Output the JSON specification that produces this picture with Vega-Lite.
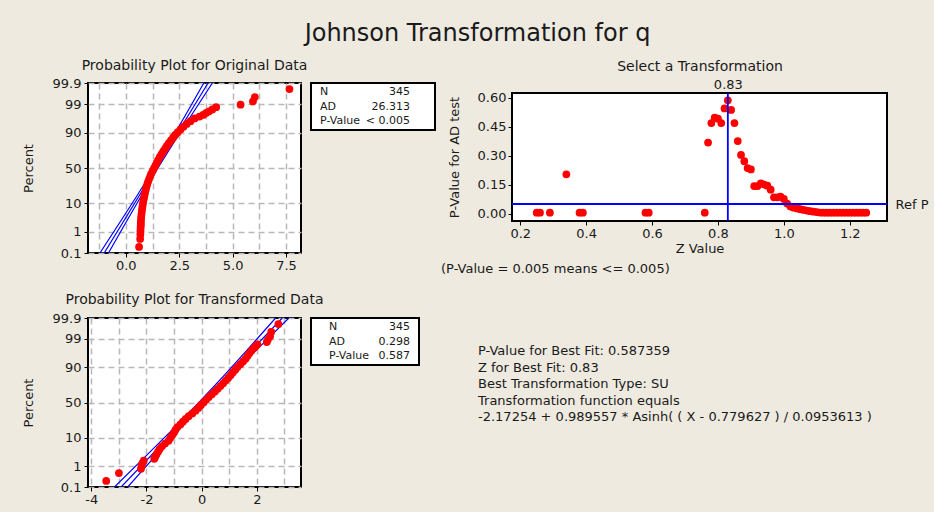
{
 "$schema": "https://vega.github.io/schema/vega-lite/v6.json",
 "background": "#EEEAE0",
 "padding": {"left": 21, "top": 22, "right": 6, "bottom": 6},
 "title": {"text": "Johnson Transformation for q", "fontSize": 24, "fontWeight": "normal", "color": "#1a1a1a", "anchor": "middle", "offset": 12, "dx": 3},
 "config": {
  "font": "DejaVu Sans",
  "view": {"stroke": null},
  "axis": {"labelColor": "#1a1a1a", "titleColor": "#1a1a1a", "titleFontWeight": "normal", "titleFontSize": 13, "labelFontSize": 13, "tickColor": "#000", "domain": false, "labelFlush": false, "labelOverlap": false},
  "title": {"fontWeight": "normal", "color": "#1a1a1a", "fontSize": 14}
 },
 "columns": 6,
 "spacing": 0,
 "align": "each",
 "bounds": "flush",
 "concat": [
  {
   "width": 213, "height": 170,
   "view": {"stroke": "#000", "strokeWidth": 2, "fill": "white"},
   "title": {"text": "Probability Plot for Original Data", "frame": "group", "anchor": "middle", "offset": 4},
   "encoding": {
    "x": {"field": "x", "type": "quantitative", "scale": {"domain": [-1.77, 8.2], "nice": false, "zero": false},
     "axis": {"values": [-1.25, 0, 1.25, 2.5, 3.75, 5, 6.25, 7.5], "labelExpr": "abs(datum.value % 2.5) < 0.001 ? format(datum.value, '.1f') : ''",
      "tickOpacity": {"condition": {"test": "abs(datum.value % 2.5) < 0.001", "value": 1}, "value": 0},
      "title": null, "tickSize": 4, "labelPadding": 2, "grid": true, "gridDash": [6, 4], "gridColor": "#b8b8b8", "gridWidth": 1.5}},
    "y": {"field": "z", "type": "quantitative", "scale": {"domain": [-3.0902, 3.0902], "nice": false, "zero": false},
     "axis": {"values": [-3.0902, -2.3263, -1.2816, 0, 1.2816, 2.3263, 3.0902],
      "labelExpr": "datum.value < -3 ? '0.1' : datum.value < -2 ? '1' : datum.value < -1 ? '10' : datum.value < 1 ? '50' : datum.value < 2 ? '90' : datum.value < 3 ? '99' : '99.9'",
      "title": "Percent", "titlePadding": 17, "tickSize": 4, "labelPadding": 3, "grid": true, "gridDash": [6, 4], "gridColor": "#b8b8b8", "gridWidth": 1.5}}
   },
   "layer": [
    {"data": {"name": "o_fit"}, "mark": {"type": "line", "color": "#0000ff", "strokeWidth": 1.2, "clip": true}, "encoding": {"detail": {"field": "line"}}},
    {"data": {"name": "o_pts"}, "mark": {"type": "circle", "size": 60, "color": "#ff0000", "opacity": 1}}
   ]
  },
  {"width": 10, "height": 1, "data": {"values": [{}]}, "mark": {"type": "point", "opacity": 0}, "encoding": {}},
  {
   "width": 124, "height": 47,
   "view": {"stroke": "#000", "strokeWidth": 2, "fill": "white"},
   "data": {"name": "box1"},
   "encoding": {"y": {"field": "row", "type": "ordinal", "axis": null, "scale": {"type": "point", "padding": 0.6}}},
   "layer": [
    {"mark": {"type": "text", "align": "left", "baseline": "middle", "fontSize": 11, "color": "#1a1a1a"},
     "encoding": {"text": {"field": "key"}, "x": {"datum": 0, "type": "quantitative", "scale": {"domain": [0, 1], "range": [9, 99]}, "axis": null}}},
    {"mark": {"type": "text", "align": "right", "baseline": "middle", "fontSize": 11, "color": "#1a1a1a"},
     "encoding": {"text": {"field": "val"}, "x": {"datum": 1, "type": "quantitative", "scale": {"domain": [0, 1], "range": [9, 99]}, "axis": null}}}
   ]
  },
  {"width": 43, "height": 1, "data": {"values": [{}]}, "mark": {"type": "point", "opacity": 0}, "encoding": {}},
  {"width": 34, "height": 1, "data": {"values": [{}]}, "mark": {"type": "point", "opacity": 0}, "encoding": {}},
  {
   "width": 375, "height": 138,
   "title": {"text": "(P-Value = 0.005 means <= 0.005)", "orient": "bottom", "anchor": "start", "frame": "group", "dx": -71, "offset": 8, "fontSize": 13},
   "layer": [
    {"data": {"values": [{}]}, "mark": {"type": "rect", "fill": "white", "stroke": "#000", "strokeWidth": 2},
     "encoding": {
      "x": {"datum": 0.175, "type": "quantitative", "scale": {"domain": [0.175, 1.313], "nice": false, "zero": false}, "axis": null},
      "x2": {"datum": 1.313},
      "y": {"datum": -0.038, "type": "quantitative", "scale": {"domain": [-0.038, 0.625], "nice": false, "zero": false, "range": [138, 10]}, "axis": null},
      "y2": {"datum": 0.625}
     }},
    {"data": {"name": "zsel"}, "mark": {"type": "circle", "size": 60, "color": "#ff0000", "opacity": 1},
     "encoding": {
      "x": {"field": "z", "type": "quantitative", "scale": {"domain": [0.175, 1.313], "nice": false, "zero": false},
       "axis": {"values": [0.2, 0.4, 0.6, 0.8, 1.0, 1.2], "format": ".1f", "title": "Z Value", "titlePadding": 2, "tickSize": 4, "labelPadding": 2, "grid": false}},
      "y": {"field": "p", "type": "quantitative", "scale": {"domain": [-0.038, 0.625], "nice": false, "zero": false, "range": [138, 10]},
       "axis": {"values": [0, 0.15, 0.3, 0.45, 0.6], "format": ".2f", "title": "P-Value for AD test", "titlePadding": 16, "tickSize": 4, "labelPadding": 2, "grid": false}}
     }},
    {"data": {"name": "refp"}, "mark": {"type": "rule", "color": "#0000ff", "strokeWidth": 1.8},
     "encoding": {"y": {"field": "p", "type": "quantitative", "scale": {"domain": [-0.038, 0.625], "nice": false, "zero": false, "range": [138, 10]},
      "axis": {"orient": "right", "values": [0.05], "labelExpr": "'Ref P'", "title": null, "ticks": false, "grid": false, "labelPadding": 8}}}},
    {"data": {"name": "zbest"}, "mark": {"type": "rule", "color": "#0000ff", "strokeWidth": 1.8},
     "encoding": {
      "x": {"field": "z", "type": "quantitative", "scale": {"domain": [0.175, 1.313], "nice": false, "zero": false},
       "axis": {"orient": "top", "values": [0.83], "format": ".2f", "title": "Select a Transformation", "titleFontSize": 14, "titlePadding": 5, "ticks": false, "grid": false, "offset": -10, "labelPadding": 2}},
      "y": {"datum": -0.038, "type": "quantitative", "scale": {"domain": [-0.038, 0.625], "nice": false, "zero": false, "range": [138, 10]}, "axis": null},
      "y2": {"datum": 0.625}
     }}
   ],
   "resolve": {"axis": {"x": "independent", "y": "independent"}}
  },

  {"width": 1, "height": 65, "data": {"values": [{}]}, "mark": {"type": "point", "opacity": 0}, "encoding": {}},
  {"width": 1, "height": 1, "data": {"values": [{}]}, "mark": {"type": "point", "opacity": 0}, "encoding": {}},
  {"width": 1, "height": 1, "data": {"values": [{}]}, "mark": {"type": "point", "opacity": 0}, "encoding": {}},
  {"width": 1, "height": 1, "data": {"values": [{}]}, "mark": {"type": "point", "opacity": 0}, "encoding": {}},
  {"width": 1, "height": 1, "data": {"values": [{}]}, "mark": {"type": "point", "opacity": 0}, "encoding": {}},
  {"width": 1, "height": 1, "data": {"values": [{}]}, "mark": {"type": "point", "opacity": 0}, "encoding": {}},

  {
   "width": 213, "height": 169,
   "view": {"stroke": "#000", "strokeWidth": 2, "fill": "white"},
   "title": {"text": "Probability Plot for Transformed Data", "frame": "group", "anchor": "middle", "offset": 5},
   "encoding": {
    "x": {"field": "x", "type": "quantitative", "scale": {"domain": [-4.12, 3.6], "nice": false, "zero": false},
     "axis": {"values": [-4, -3, -2, -1, 0, 1, 2, 3], "labelExpr": "datum.value % 2 == 0 ? '' + datum.value : ''",
      "tickOpacity": {"condition": {"test": "datum.value % 2 == 0", "value": 1}, "value": 0},
      "title": null, "tickSize": 4, "labelPadding": 2, "grid": true, "gridDash": [6, 4], "gridColor": "#b8b8b8", "gridWidth": 1.5}},
    "y": {"field": "z", "type": "quantitative", "scale": {"domain": [-3.0902, 3.0902], "nice": false, "zero": false},
     "axis": {"values": [-3.0902, -2.3263, -1.2816, 0, 1.2816, 2.3263, 3.0902],
      "labelExpr": "datum.value < -3 ? '0.1' : datum.value < -2 ? '1' : datum.value < -1 ? '10' : datum.value < 1 ? '50' : datum.value < 2 ? '90' : datum.value < 3 ? '99' : '99.9'",
      "title": "Percent", "titlePadding": 17, "tickSize": 4, "labelPadding": 3, "grid": true, "gridDash": [6, 4], "gridColor": "#b8b8b8", "gridWidth": 1.5}}
   },
   "layer": [
    {"data": {"name": "t_fit"}, "mark": {"type": "line", "color": "#0000ff", "strokeWidth": 1.2, "clip": true}, "encoding": {"detail": {"field": "line"}}},
    {"data": {"name": "t_pts"}, "mark": {"type": "circle", "size": 60, "color": "#ff0000", "opacity": 1}}
   ]
  },
  {"width": 10, "height": 1, "data": {"values": [{}]}, "mark": {"type": "point", "opacity": 0}, "encoding": {}},
  {
   "width": 108, "height": 47,
   "view": {"stroke": "#000", "strokeWidth": 2, "fill": "white"},
   "data": {"name": "box2"},
   "encoding": {"y": {"field": "row", "type": "ordinal", "axis": null, "scale": {"type": "point", "padding": 0.65}}},
   "layer": [
    {"mark": {"type": "text", "align": "left", "baseline": "middle", "fontSize": 11, "color": "#1a1a1a"},
     "encoding": {"text": {"field": "key"}, "x": {"datum": 0, "type": "quantitative", "scale": {"domain": [0, 1], "range": [18, 99]}, "axis": null}}},
    {"mark": {"type": "text", "align": "right", "baseline": "middle", "fontSize": 11, "color": "#1a1a1a"},
     "encoding": {"text": {"field": "val"}, "x": {"datum": 1, "type": "quantitative", "scale": {"domain": [0, 1], "range": [18, 99]}, "axis": null}}}
   ]
  },
  {"width": 43, "height": 1, "data": {"values": [{}]}, "mark": {"type": "point", "opacity": 0}, "encoding": {}},
  {
   "width": 34, "height": 107,
   "data": {"name": "txt"},
   "mark": {"type": "text", "align": "left", "baseline": "middle", "fontSize": 13, "color": "#1a1a1a"},
   "encoding": {
    "y": {"field": "line", "type": "ordinal", "axis": null, "scale": {"type": "point", "range": [33, 99], "padding": 0}},
    "x": {"datum": 0, "type": "quantitative", "scale": {"domain": [0, 1]}, "axis": null},
    "text": {"field": "text"}
   }
  },
  {"width": 1, "height": 1, "data": {"values": [{}]}, "mark": {"type": "point", "opacity": 0}, "encoding": {}}
 ],
 "datasets": {
  "o_pts": [
   {"x": 0.62, "z": -2.87}, {"x": 0.67, "z": -2.58}, {"x": 0.68, "z": -2.42}, {"x": 0.685, "z": -2.3}, {"x": 0.69, "z": -2.21},
   {"x": 0.695, "z": -2.13}, {"x": 0.7, "z": -2.06}, {"x": 0.7, "z": -2.0}, {"x": 0.71, "z": -1.9}, {"x": 0.72, "z": -1.8},
   {"x": 0.73, "z": -1.7}, {"x": 0.75, "z": -1.6}, {"x": 0.76, "z": -1.5}, {"x": 0.78, "z": -1.4}, {"x": 0.8, "z": -1.3},
   {"x": 0.82, "z": -1.2}, {"x": 0.85, "z": -1.1}, {"x": 0.87, "z": -1.0}, {"x": 0.9, "z": -0.9}, {"x": 0.93, "z": -0.8},
   {"x": 0.96, "z": -0.7}, {"x": 1.0, "z": -0.6}, {"x": 1.04, "z": -0.5}, {"x": 1.09, "z": -0.4}, {"x": 1.14, "z": -0.3},
   {"x": 1.19, "z": -0.2}, {"x": 1.26, "z": -0.1}, {"x": 1.32, "z": 0.0}, {"x": 1.39, "z": 0.1}, {"x": 1.45, "z": 0.2},
   {"x": 1.52, "z": 0.3}, {"x": 1.59, "z": 0.4}, {"x": 1.67, "z": 0.5}, {"x": 1.75, "z": 0.6}, {"x": 1.84, "z": 0.7},
   {"x": 1.92, "z": 0.8}, {"x": 2.01, "z": 0.9}, {"x": 2.11, "z": 1.0}, {"x": 2.21, "z": 1.1}, {"x": 2.31, "z": 1.2},
   {"x": 2.43, "z": 1.3}, {"x": 2.56, "z": 1.4}, {"x": 2.7, "z": 1.5}, {"x": 2.85, "z": 1.6}, {"x": 3.03, "z": 1.7},
   {"x": 3.22, "z": 1.8}, {"x": 3.45, "z": 1.87}, {"x": 3.62, "z": 1.93}, {"x": 3.76, "z": 2.0}, {"x": 3.9, "z": 2.06},
   {"x": 4.05, "z": 2.13}, {"x": 4.23, "z": 2.21}, {"x": 5.37, "z": 2.3}, {"x": 5.95, "z": 2.42}, {"x": 6.04, "z": 2.58},
   {"x": 7.66, "z": 2.87}
  ],
  "o_fit": [
   {"line": "fit", "z": -3.0902, "x": -1.012}, {"line": "fit", "z": 3.0902, "x": 3.852},
   {"line": "lo", "z": -3.0902, "x": -1.212}, {"line": "lo", "z": -2, "x": -0.298}, {"line": "lo", "z": -1, "x": 0.531}, {"line": "lo", "z": 0, "x": 1.337}, {"line": "lo", "z": 1, "x": 2.105}, {"line": "lo", "z": 2, "x": 2.85}, {"line": "lo", "z": 3.0902, "x": 3.652},
   {"line": "hi", "z": -3.0902, "x": -0.812}, {"line": "hi", "z": -2, "x": -0.01}, {"line": "hi", "z": -1, "x": 0.735}, {"line": "hi", "z": 0, "x": 1.503}, {"line": "hi", "z": 1, "x": 2.309}, {"line": "hi", "z": 2, "x": 3.138}, {"line": "hi", "z": 3.0902, "x": 4.052}
  ],
  "t_pts": [
   {"x": -3.46, "z": -2.87}, {"x": -3.0, "z": -2.58}, {"x": -2.2, "z": -2.42}, {"x": -2.18, "z": -2.3}, {"x": -2.14, "z": -2.21},
   {"x": -2.1, "z": -2.13}, {"x": -1.72, "z": -2.06}, {"x": -1.69, "z": -2.0}, {"x": -1.64, "z": -1.9}, {"x": -1.58, "z": -1.8},
   {"x": -1.52, "z": -1.7}, {"x": -1.44, "z": -1.6}, {"x": -1.33, "z": -1.5}, {"x": -1.2, "z": -1.4}, {"x": -1.14, "z": -1.3},
   {"x": -1.07, "z": -1.2}, {"x": -1.0, "z": -1.1}, {"x": -0.95, "z": -1.0}, {"x": -0.88, "z": -0.9}, {"x": -0.77, "z": -0.8},
   {"x": -0.68, "z": -0.7}, {"x": -0.58, "z": -0.6}, {"x": -0.47, "z": -0.5}, {"x": -0.34, "z": -0.4}, {"x": -0.22, "z": -0.3},
   {"x": -0.12, "z": -0.2}, {"x": -0.03, "z": -0.1}, {"x": 0.07, "z": 0.0}, {"x": 0.16, "z": 0.1}, {"x": 0.26, "z": 0.2},
   {"x": 0.37, "z": 0.3}, {"x": 0.48, "z": 0.4}, {"x": 0.58, "z": 0.5}, {"x": 0.68, "z": 0.6}, {"x": 0.78, "z": 0.7},
   {"x": 0.87, "z": 0.8}, {"x": 0.96, "z": 0.9}, {"x": 1.05, "z": 1.0}, {"x": 1.13, "z": 1.1}, {"x": 1.22, "z": 1.2},
   {"x": 1.3, "z": 1.3}, {"x": 1.4, "z": 1.4}, {"x": 1.5, "z": 1.5}, {"x": 1.59, "z": 1.6}, {"x": 1.66, "z": 1.7},
   {"x": 1.73, "z": 1.8}, {"x": 1.81, "z": 1.9}, {"x": 1.9, "z": 2.0}, {"x": 1.96, "z": 2.06}, {"x": 2.02, "z": 2.13},
   {"x": 2.36, "z": 2.21}, {"x": 2.4, "z": 2.3}, {"x": 2.48, "z": 2.42}, {"x": 2.52, "z": 2.58}, {"x": 2.78, "z": 2.87}
  ],
  "t_fit": [
   {"line": "fit", "z": -3.0902, "x": -2.92}, {"line": "fit", "z": 3.0902, "x": 2.92},
   {"line": "lo", "z": -3.0902, "x": -3.16}, {"line": "lo", "z": -2, "x": -2.063}, {"line": "lo", "z": -1, "x": -1.067}, {"line": "lo", "z": 0, "x": -0.1}, {"line": "lo", "z": 1, "x": 0.823}, {"line": "lo", "z": 2, "x": 1.717}, {"line": "lo", "z": 3.0902, "x": 2.68},
   {"line": "hi", "z": -3.0902, "x": -2.68}, {"line": "hi", "z": -2, "x": -1.717}, {"line": "hi", "z": -1, "x": -0.823}, {"line": "hi", "z": 0, "x": 0.1}, {"line": "hi", "z": 1, "x": 1.067}, {"line": "hi", "z": 2, "x": 2.063}, {"line": "hi", "z": 3.0902, "x": 3.16}
  ],
  "zsel": [
   {"z": 0.25, "p": 0.005}, {"z": 0.26, "p": 0.005}, {"z": 0.29, "p": 0.005}, {"z": 0.34, "p": 0.204}, {"z": 0.38, "p": 0.005},
   {"z": 0.39, "p": 0.005}, {"z": 0.58, "p": 0.005}, {"z": 0.59, "p": 0.005}, {"z": 0.76, "p": 0.005}, {"z": 0.77, "p": 0.368},
   {"z": 0.78, "p": 0.469}, {"z": 0.79, "p": 0.497}, {"z": 0.8, "p": 0.492}, {"z": 0.81, "p": 0.469}, {"z": 0.82, "p": 0.545},
   {"z": 0.83, "p": 0.587}, {"z": 0.84, "p": 0.537}, {"z": 0.85, "p": 0.469}, {"z": 0.86, "p": 0.376}, {"z": 0.87, "p": 0.304},
   {"z": 0.88, "p": 0.272}, {"z": 0.89, "p": 0.236}, {"z": 0.9, "p": 0.229}, {"z": 0.91, "p": 0.143}, {"z": 0.92, "p": 0.143},
   {"z": 0.93, "p": 0.157}, {"z": 0.94, "p": 0.151}, {"z": 0.95, "p": 0.145}, {"z": 0.96, "p": 0.124}, {"z": 0.97, "p": 0.085},
   {"z": 0.98, "p": 0.085}, {"z": 0.99, "p": 0.088}, {"z": 1.0, "p": 0.076}, {"z": 1.01, "p": 0.052}, {"z": 1.02, "p": 0.037},
   {"z": 1.03, "p": 0.031}, {"z": 1.04, "p": 0.027}, {"z": 1.05, "p": 0.023}, {"z": 1.06, "p": 0.019}, {"z": 1.07, "p": 0.016},
   {"z": 1.08, "p": 0.013}, {"z": 1.09, "p": 0.01}, {"z": 1.1, "p": 0.008}, {"z": 1.11, "p": 0.006}, {"z": 1.12, "p": 0.005},
   {"z": 1.13, "p": 0.005}, {"z": 1.14, "p": 0.005}, {"z": 1.15, "p": 0.005}, {"z": 1.16, "p": 0.005}, {"z": 1.17, "p": 0.005},
   {"z": 1.18, "p": 0.005}, {"z": 1.19, "p": 0.005}, {"z": 1.2, "p": 0.005}, {"z": 1.21, "p": 0.005}, {"z": 1.22, "p": 0.005},
   {"z": 1.23, "p": 0.005}, {"z": 1.24, "p": 0.005}, {"z": 1.25, "p": 0.005}
  ],
  "refp": [{"p": 0.05}],
  "zbest": [{"z": 0.83}],
  "box1": [
   {"row": 1, "key": "N", "val": "345"},
   {"row": 2, "key": "AD", "val": "26.313"},
   {"row": 3, "key": "P-Value", "val": "< 0.005"}
  ],
  "box2": [
   {"row": 1, "key": "N", "val": "345"},
   {"row": 2, "key": "AD", "val": "0.298"},
   {"row": 3, "key": "P-Value", "val": "0.587"}
  ],
  "txt": [
   {"line": 1, "text": "P-Value for Best Fit: 0.587359"},
   {"line": 2, "text": "Z for Best Fit: 0.83"},
   {"line": 3, "text": "Best Transformation Type: SU"},
   {"line": 4, "text": "Transformation function equals"},
   {"line": 5, "text": "-2.17254 + 0.989557 * Asinh( ( X - 0.779627 ) / 0.0953613 )"}
  ]
 }
}
